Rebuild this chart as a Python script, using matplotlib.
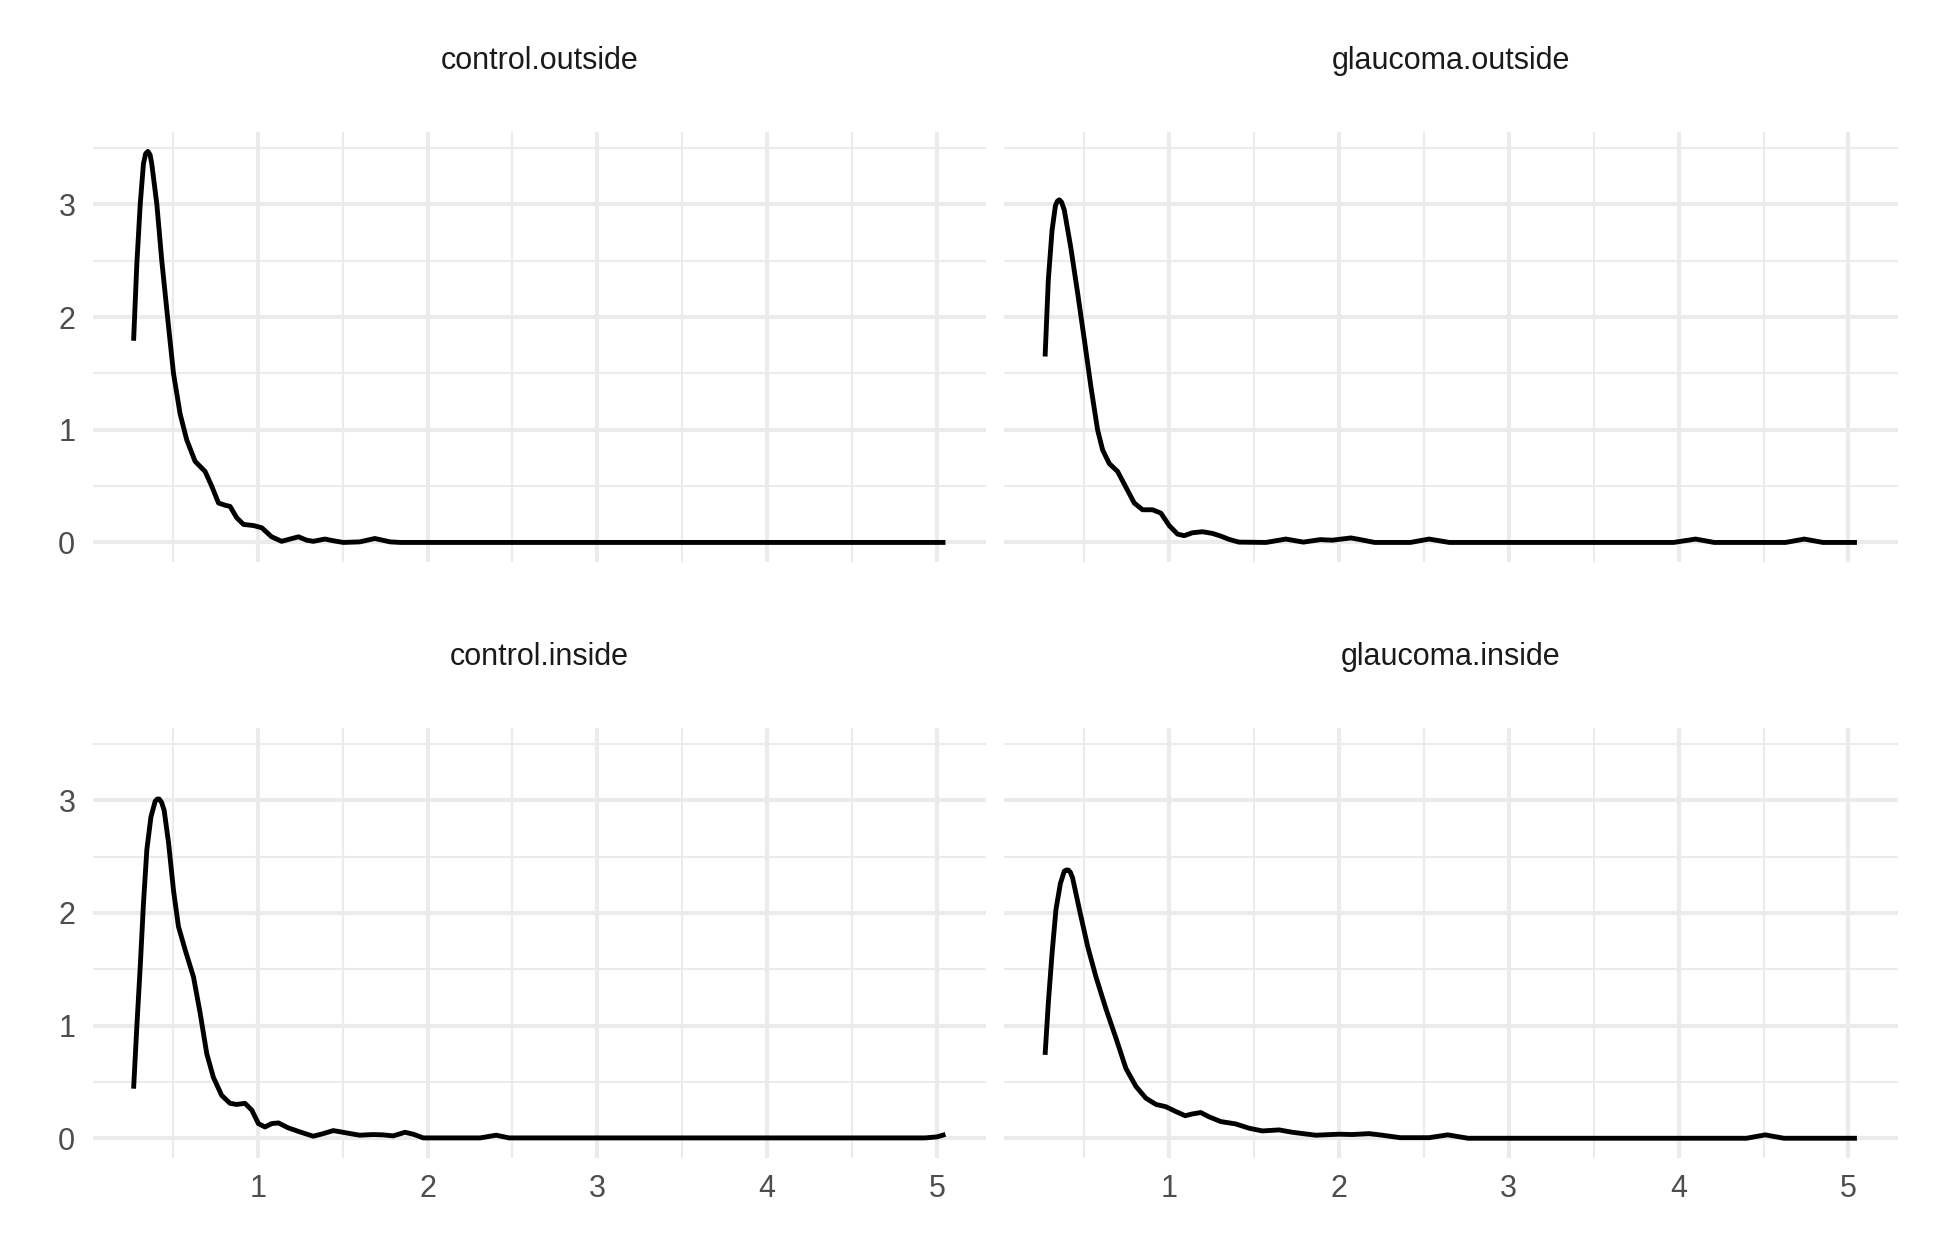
import matplotlib
matplotlib.use("Agg")
import matplotlib.pyplot as plt
from matplotlib.ticker import MultipleLocator

plt.rcParams['font.family'] = ['Liberation Sans', 'DejaVu Sans']

panel_titles = ["control.outside", "glaucoma.outside", "control.inside", "glaucoma.inside"]

co_x = [0.269, 0.288, 0.308, 0.327, 0.340, 0.353, 0.366, 0.376, 0.406, 0.435, 0.469, 0.504, 0.543, 0.582,
        0.631, 0.690, 0.729, 0.769, 0.808, 0.837, 0.876, 0.916, 0.975, 1.024, 1.082, 1.141, 1.19,
        1.24, 1.288, 1.327, 1.396, 1.445, 1.504, 1.60, 1.69, 1.78, 1.84, 5.05]
co_y = [1.79, 2.47, 3.0, 3.36, 3.45, 3.47, 3.44, 3.36, 3.0, 2.50, 2.0, 1.50, 1.14, 0.91,
        0.72, 0.63, 0.50, 0.35, 0.33, 0.32, 0.22, 0.16, 0.15, 0.13, 0.05, 0.01, 0.03,
        0.05, 0.02, 0.01, 0.03, 0.015, 0.0, 0.005, 0.035, 0.005, 0.0, 0.0]

go_x = [0.269, 0.288, 0.31, 0.33, 0.342, 0.353, 0.366, 0.382, 0.42, 0.461, 0.5, 0.539, 0.578, 0.608, 0.647, 0.696,
        0.745, 0.794, 0.843, 0.902, 0.951, 1.0, 1.049, 1.088, 1.137, 1.196, 1.255, 1.304, 1.353,
        1.41, 1.57, 1.687, 1.79, 1.89, 1.96, 2.07, 2.118, 2.21, 2.42, 2.53, 2.65, 3.97, 4.10,
        4.21, 4.63, 4.74, 4.85, 5.05]
go_y = [1.65, 2.33, 2.77, 2.99, 3.03, 3.04, 3.02, 2.95, 2.62, 2.21, 1.80, 1.38, 1.0, 0.82, 0.70, 0.63,
        0.49, 0.35, 0.29, 0.29, 0.26, 0.15, 0.074, 0.06, 0.086, 0.095, 0.08, 0.056, 0.027,
        0.003, 0.0, 0.03, 0.003, 0.025, 0.02, 0.04, 0.027, 0.0, 0.0, 0.03, 0.0, 0.0, 0.03,
        0.0, 0.0, 0.03, 0.0, 0.0]

ci_x = [0.269, 0.288, 0.308, 0.327, 0.347, 0.371, 0.396, 0.408, 0.42, 0.434, 0.449, 0.475, 0.504, 0.533, 0.573,
        0.622, 0.661, 0.70, 0.739, 0.788, 0.837, 0.876, 0.925, 0.965, 1.004, 1.043, 1.082, 1.122,
        1.18, 1.249, 1.327, 1.386, 1.445, 1.524, 1.60, 1.68, 1.739, 1.798, 1.867, 1.916, 1.975,
        2.31, 2.404, 2.48, 4.93, 5.0, 5.05]
ci_y = [0.44, 0.99, 1.52, 2.08, 2.56, 2.85, 2.99, 3.01, 3.01, 2.98, 2.91, 2.62, 2.20, 1.88, 1.67,
        1.43, 1.11, 0.75, 0.54, 0.38, 0.31, 0.30, 0.31, 0.25, 0.13, 0.10, 0.13, 0.136,
        0.092, 0.056, 0.018, 0.041, 0.068, 0.047, 0.027, 0.033, 0.03, 0.021, 0.053, 0.036, 0.003,
        0.003, 0.027, 0.003, 0.003, 0.012, 0.034]

gi_x = [0.269, 0.288, 0.31, 0.333, 0.359, 0.382, 0.394, 0.406, 0.418, 0.431, 0.471, 0.52, 0.569, 0.627, 0.686,
        0.745, 0.804, 0.863, 0.922, 0.98, 1.039, 1.094, 1.137, 1.186, 1.235, 1.304, 1.392, 1.47,
        1.549, 1.647, 1.725, 1.863, 2.0, 2.078, 2.176, 2.24, 2.36, 2.53, 2.64, 2.76, 4.40, 4.51,
        4.62, 5.05]
gi_y = [0.74, 1.20, 1.64, 2.03, 2.26, 2.37, 2.38, 2.38, 2.36, 2.31, 2.03, 1.70, 1.43, 1.15, 0.89,
        0.62, 0.46, 0.355, 0.30, 0.28, 0.237, 0.20, 0.216, 0.228, 0.19, 0.148, 0.127, 0.089,
        0.065, 0.074, 0.053, 0.027, 0.036, 0.033, 0.041, 0.03, 0.005, 0.005, 0.03, 0.0, 0.0, 0.03,
        0.0, 0.0]

x_ticks = [1, 2, 3, 4, 5]
y_ticks = [0, 1, 2, 3]

series = [(co_x, co_y), (go_x, go_y), (ci_x, ci_y), (gi_x, gi_y)]

fig = plt.figure(figsize=(19.42, 12.43), dpi=100)
fig.patch.set_facecolor("white")

lefts = [0.04789, 0.51725]
bottoms = [0.54787, 0.06854]
w, h = 0.45984, 0.34605

all_x = co_x + go_x + ci_x + gi_x
all_y = co_y + go_y + ci_y + gi_y
xmin, xmax = min(all_x), max(all_x)
ymin, ymax = 0.0, max(all_y)
xpad = 0.05 * (xmax - xmin)
ypad = 0.05 * (ymax - ymin)

grid_col = "#EBEBEB"
for i, (title, (xs, ys)) in enumerate(zip(panel_titles, series)):
    r, c = divmod(i, 2)
    ax = fig.add_axes([lefts[c], bottoms[r], w, h])
    ax.set_xlim(xmin - xpad, xmax + xpad)
    ax.set_ylim(ymin - ypad, ymax + ypad)
    ax.xaxis.set_major_locator(MultipleLocator(1))
    ax.xaxis.set_minor_locator(MultipleLocator(0.5))
    ax.yaxis.set_major_locator(MultipleLocator(1))
    ax.yaxis.set_minor_locator(MultipleLocator(0.5))
    ax.set_xticks(x_ticks)
    ax.set_yticks(y_ticks)
    ax.grid(which="major", color=grid_col, linewidth=2.9)
    ax.grid(which="minor", color=grid_col, linewidth=1.45)
    ax.set_axisbelow(True)
    for s in ax.spines.values():
        s.set_visible(False)
    ax.tick_params(which="both", length=0)
    ax.tick_params(axis="x", pad=12, labelsize=22, labelcolor="#4D4D4D")
    ax.tick_params(axis="y", pad=12.7, labelsize=22, labelcolor="#4D4D4D")
    if r == 0:
        ax.tick_params(axis="x", labelbottom=False)
    if c == 1:
        ax.tick_params(axis="y", labelleft=False)
    ax.plot(xs, ys, color="black", linewidth=3.5, solid_joinstyle="round", solid_capstyle="butt")
    ax.annotate(title, xy=(0.5, 1.0), xycoords="axes fraction", xytext=(0, 51.0),
                textcoords="offset points", ha="center", va="center",
                fontsize=22, color="#1A1A1A")

fig.savefig("out.png", dpi=100, facecolor="white")
